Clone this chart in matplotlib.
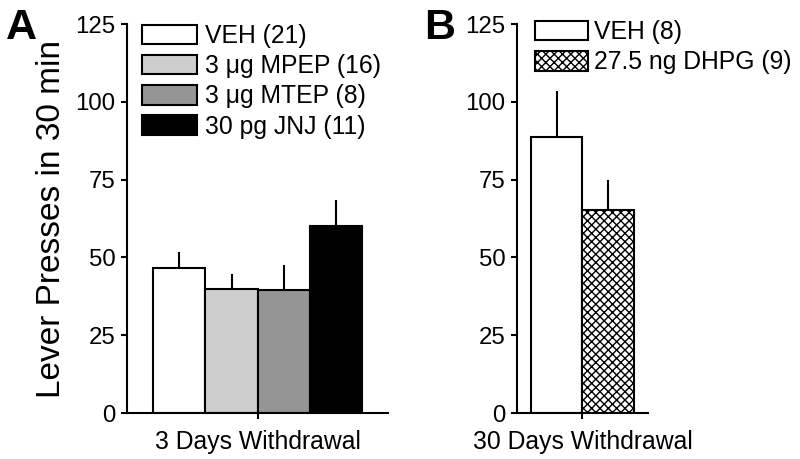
import matplotlib.pyplot as plt
import numpy as np

plt.rcParams['font.family'] = ['Liberation Sans', 'DejaVu Sans']
plt.rcParams['hatch.linewidth'] = 1.0

# panel A: 3 days withdrawal
labels_a = ['VEH (21)', '3 μg MPEP (16)', '3 μg MTEP (8)', '30 pg JNJ (11)']
means_a = [46.6, 39.8, 39.5, 60.1]
sem_a = [5.1, 4.9, 8.1, 8.3]
colors_a = ['white', '#cecece', '#959595', 'black']

# panel B: 30 days withdrawal
labels_b = ['VEH (8)', '27.5 ng DHPG (9)']
means_b = [88.7, 65.2]
sem_b = [14.8, 9.7]
hatches_b = ['', 'xxxx']

yticks = [0, 25, 50, 75, 100, 125]
lw = 1.5

fig = plt.figure(figsize=(8, 4.59), dpi=100)
axA = fig.add_axes([0.159, 0.1002, 0.326, 0.8475])
axB = fig.add_axes([0.646, 0.1002, 0.164, 0.8475])


def style(ax, xlabel):
    ax.spines['top'].set_visible(False)
    ax.spines['right'].set_visible(False)
    ax.spines['left'].set_linewidth(lw)
    ax.spines['bottom'].set_linewidth(lw)
    ax.set_ylim(0, 125)
    ax.set_yticks(yticks)
    ax.tick_params(direction='out', length=4.3, width=lw, labelsize=17.3, pad=4)
    ax.set_xlabel(xlabel, fontsize=17.8, labelpad=4)


xa = np.arange(len(means_a))
for i in range(len(means_a)):
    axA.bar(xa[i], means_a[i], width=1, color=colors_a[i], edgecolor='black',
            linewidth=lw, label=labels_a[i], zorder=2)
axA.errorbar(xa, means_a, yerr=[np.zeros(len(sem_a)), sem_a], fmt='none',
             ecolor='black', elinewidth=lw, capsize=0, zorder=1)
axA.set_xlim(-1.0, 4.0)
axA.set_xticks([1.5])
axA.set_xticklabels([''])
style(axA, '3 Days Withdrawal')
axA.set_ylabel('Lever Presses in 30 min', fontsize=24)
axA.yaxis.set_label_coords(-0.23, 0.5)
axA.legend(loc='upper left', bbox_to_anchor=(0.057, 1.0), frameon=False,
           fontsize=17.8, handlelength=2.23, handleheight=0.85,
           handletextpad=0.3, labelspacing=0.25, borderpad=0, borderaxespad=0)

xb = np.arange(len(means_b))
for i in range(len(means_b)):
    axB.bar(xb[i], means_b[i], width=1, color='white', edgecolor='black',
            linewidth=lw, hatch=hatches_b[i], label=labels_b[i], zorder=2)
axB.errorbar(xb, means_b, yerr=[np.zeros(len(sem_b)), sem_b], fmt='none',
             ecolor='black', elinewidth=lw, capsize=0, zorder=1)
axB.set_xlim(-0.77, 1.77)
axB.set_xticks([0.5])
axB.set_xticklabels([''])
style(axB, '30 Days Withdrawal')
axB.legend(loc='upper left', bbox_to_anchor=(0.137, 1.01), frameon=False,
           fontsize=17.8, handlelength=2.15, handleheight=0.85,
           handletextpad=0.25, labelspacing=0.25, borderpad=0, borderaxespad=0)

fig.text(0.0075, 0.915, 'A', fontsize=31, fontweight='bold', va='baseline')
fig.text(0.53, 0.915, 'B', fontsize=31, fontweight='bold', va='baseline')

plt.savefig('out.png', dpi=100)
